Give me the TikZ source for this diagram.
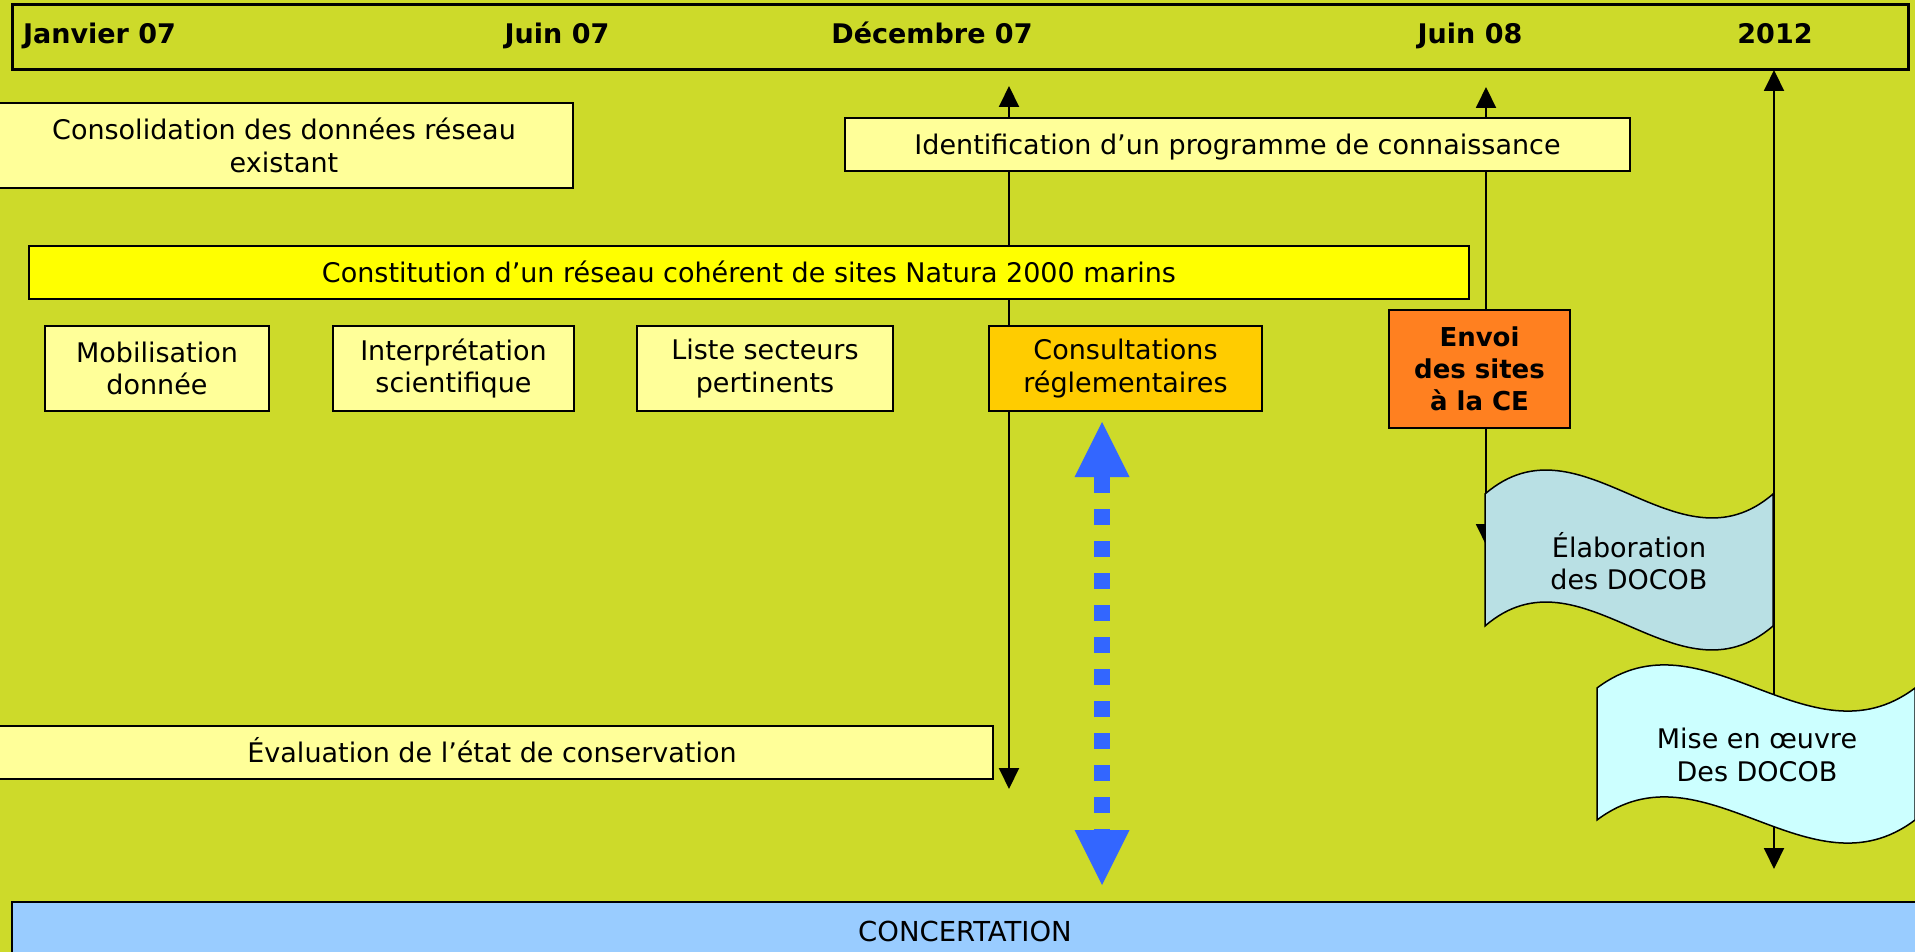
\documentclass[tikz,border=0pt]{standalone}
\usepackage{fontspec}
\setmainfont{DejaVu Sans}
\usetikzlibrary{arrows.meta}
\definecolor{bgc}{RGB}{205,218,42}
\definecolor{palec}{RGB}{255,255,153}
\definecolor{yelc}{RGB}{255,255,0}
\definecolor{goldc}{RGB}{255,204,0}
\definecolor{orngc}{RGB}{255,128,32}
\definecolor{tealc}{RGB}{185,224,228}
\definecolor{cyanc}{RGB}{204,255,255}
\definecolor{skyc}{RGB}{153,204,255}
\definecolor{bluc}{RGB}{51,102,255}
\begin{document}
\begin{tikzpicture}[x=1pt,y=-1pt,
  txt/.style={font=\fontsize{27}{32.5}\selectfont,align=center,inner sep=0pt},
  box/.style={txt,draw=black,line width=2pt},
  onel/.style={text height=20pt,text depth=0.3pt},
  datelab/.style={font=\fontsize{27}{32}\selectfont\bfseries,anchor=base,inner sep=0pt},
  timeline/.style={draw=black,line width=2pt,{Triangle[length=21pt,width=20pt]}-{Triangle[length=21pt,width=20pt]}},
  wave/.style={draw=black,line width=1.5pt},
  bigarrow/.style={bluc,line width=16pt,dash pattern=on 16pt off 16pt,{Triangle[length=55pt,width=55pt,line width=0pt 0 0]}-{Triangle[length=55pt,width=55pt,line width=0pt 0 0]}}]
\fill[bgc] (0,0) rectangle (1915,952);
\useasboundingbox (0,0) rectangle (1915,952);

% timeline coordinates
\coordinate (d1) at (1009,86);
\coordinate (d2) at (1009,789);
\coordinate (j1) at (1486,87);
\coordinate (j2) at (1486,545);
\coordinate (y1) at (1774,70);
\coordinate (y2) at (1774,869);
\coordinate (b1) at (1102,422);
\coordinate (b2) at (1102,885);

\draw[timeline] (d1) -- (d2);
\draw[timeline] (j1) -- (j2);
\draw[timeline] (y1) -- (y2);
\draw[bigarrow] (b1) -- (b2);

% top bar
\node[draw=black,line width=3pt,fill=bgc,minimum width=1896pt,minimum height=65pt,inner sep=0pt] (bar) at (960,37.5) {};
\node[datelab] (l1) at (99.5,44) {Janvier 07};
\node[datelab] (l2) at (557,44) {Juin 07};
\node[datelab] (l3) at (932,44) {Décembre 07};
\node[datelab] (l4) at (1470,44) {Juin 08};
\node[datelab] (l5) at (1775,44) {2012};

% boxes
\node[box,fill=palec,minimum width=578pt,minimum height=85pt] (consol) at (284,145.5) {Consolidation des données réseau\\existant};
\node[box,onel,fill=palec,minimum width=785pt,minimum height=53pt] (ident) at (1237.5,144.5) {Identification d’un programme de connaissance};
\node[box,onel,fill=yelc,minimum width=1440pt,minimum height=53pt] (constit) at (749,272.5) {Constitution d’un réseau cohérent de sites Natura 2000 marins};
\node[box,fill=palec,minimum width=224pt,minimum height=85pt] (mobil) at (157,368.5) {Mobilisation\\donnée};
\node[box,fill=palec,minimum width=241pt,minimum height=85pt] (interp) at (453.5,368.5) {Interprétation\\scientifique};
\node[box,fill=palec,minimum width=256pt,minimum height=85pt] (liste) at (765,368.5) {Liste secteurs\\pertinents};
\node[box,fill=goldc,minimum width=273pt,minimum height=85pt] (consult) at (1125.5,368.5) {Consultations\\réglementaires};
\node[box,fill=orngc,minimum width=181pt,minimum height=118pt,font=\fontsize{26}{32}\selectfont\bfseries] (envoi) at (1479.5,369) {Envoi\\des sites\\à la CE};
\node[box,onel,fill=palec,minimum width=1002pt,minimum height=53pt] (evalu) at (492,752.5) {Évaluation de l’état de conservation};
\node[box,fill=skyc,minimum width=1906pt,minimum height=58pt,font=\fontsize{27.5}{32}\selectfont] (concert) at (965,931) {CONCERTATION};

% wave shapes
\path[wave,fill=tealc] (1485,494) .. controls (1581,411) and (1677,577) .. (1773,494) -- (1773,626) .. controls (1677,709) and (1581,543) .. (1485,626) -- cycle;
\node[txt] (elab) at (1629,561) {Élaboration\\des DOCOB};
\path[wave,fill=cyanc] (1597,688) .. controls (1703,608) and (1809,768) .. (1915,688) -- (1915,820) .. controls (1809,900) and (1703,740) .. (1597,820) -- cycle;
\node[txt] (mise) at (1757,755) {Mise en œuvre\\Des DOCOB};
\end{tikzpicture}
\end{document}
